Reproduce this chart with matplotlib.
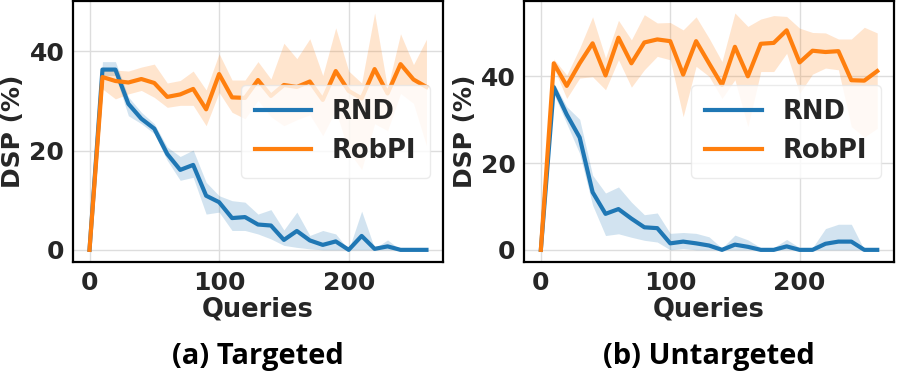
import matplotlib
matplotlib.use("Agg")
import matplotlib.pyplot as plt

queries = [0, 10, 20, 30, 40, 50, 60, 70, 80, 90, 100, 110, 120, 130,
           140, 150, 160, 170, 180, 190, 200, 210, 220, 230, 240, 250, 260]

# (a) Targeted
tgt_rnd = [0, 36.3, 36.3, 29.4, 26.4, 24.4, 19.3, 16.1, 17.1, 10.9, 9.6, 6.4, 6.6, 5.1,
           4.9, 2.0, 3.8, 1.9, 1.0, 1.7, 0, 2.8, 0.2, 0.7, 0, 0, 0]
tgt_rnd_lo = [0, 35.1, 35.1, 27.0, 25.4, 23.4, 18.0, 14.0, 14.6, 7.2, 7.6, 3.9, 3.9, 3.2,
              2.2, 0.9, 0.5, 0.2, 0, 0, 0, 0, 0, 0, 0, 0, 0]
tgt_rnd_hi = [0, 37.9, 37.9, 30.8, 27.7, 25.4, 20.7, 18.8, 20.1, 13.6, 10.9, 9.9, 9.6, 7.2,
              8.1, 4.0, 7.6, 2.9, 3.9, 3.2, 0, 7.8, 0.3, 2.0, 0, 0, 0]
tgt_rob = [0, 34.8, 34.0, 33.7, 34.4, 33.6, 30.8, 31.3, 32.4, 28.3, 35.4, 30.7, 30.6, 34.2,
           31.0, 33.2, 32.8, 33.9, 30.2, 36.0, 32.0, 30.5, 36.4, 31.5, 37.4, 34.3, 32.8]
tgt_rob_lo = [0, 32.4, 30.4, 31.4, 32.1, 30.7, 28.7, 29.1, 29.1, 25.0, 31.7, 27.7, 26.4, 30.1,
              26.8, 25.0, 26.2, 27.2, 23.0, 28.1, 19.8, 16.2, 25.4, 24.0, 31.5, 29.5, 21.0]
tgt_rob_hi = [0, 36.8, 36.2, 36.0, 36.8, 37.4, 33.6, 34.1, 36.0, 32.2, 39.5, 34.2, 34.2, 37.9,
              34.4, 41.6, 38.5, 42.5, 35.1, 44.7, 36.0, 33.6, 47.7, 32.5, 43.5, 37.3, 42.4]

# (b) Untargeted
utg_rnd = [0, 37.5, 31.2, 25.9, 13.3, 8.3, 9.4, 7.2, 5.2, 5.0, 1.5, 1.9, 1.5, 1.0,
           0, 1.2, 0.7, 0, 0, 0.8, 0, 0, 1.4, 1.9, 1.9, 0, 0]
utg_rnd_lo = [0, 36.0, 29.1, 22.2, 10.3, 3.3, 3.7, 2.9, 2.2, 1.8, 0, 0.3, 0, 0,
              0, 0, 0, 0, 0, 0, 0, 0, 0, 0, 0, 0, 0]
utg_rnd_hi = [0, 38.5, 33.0, 30.1, 17.2, 13.1, 14.5, 11.0, 8.1, 8.5, 3.8, 4.0, 3.8, 3.0,
              0.4, 3.4, 2.3, 0.5, 0.5, 2.4, 0.5, 0.5, 4.9, 5.9, 5.9, 0, 0]
utg_rob = [0, 43.0, 37.8, 43.0, 47.6, 40.2, 48.9, 43.0, 47.8, 48.5, 48.1, 40.4, 48.1, 43.0,
           38.0, 46.8, 40.0, 47.5, 47.7, 50.6, 43.2, 45.9, 45.6, 45.8, 39.1, 39.0, 41.2]
utg_rob_lo = [0, 41.9, 34.9, 39.6, 39.9, 36.9, 43.8, 37.5, 41.5, 44.6, 43.8, 30.7, 42.3, 40.0,
              34.9, 39.2, 28.4, 41.1, 41.1, 45.3, 36.1, 40.5, 41.9, 41.5, 28.4, 26.0, 28.0]
utg_rob_hi = [0, 44.0, 40.3, 46.5, 53.7, 44.2, 52.9, 48.4, 54.2, 52.3, 52.4, 50.7, 53.7, 48.8,
              43.4, 54.6, 51.5, 53.2, 54.0, 53.8, 51.1, 50.1, 50.0, 48.6, 48.6, 51.3, 50.0]

captions = ["(a) Targeted", "(b) Untargeted"]
BLUE = "#1f77b4"
ORANGE = "#ff7f0e"
TXT = "#262626"


def draw_panel(ax, rnd, rnd_lo, rnd_hi, rob, rob_lo, rob_hi):
    ax.fill_between(queries, rnd_lo, rnd_hi, color=BLUE, alpha=0.2, lw=0)
    ax.fill_between(queries, rob_lo, rob_hi, color=ORANGE, alpha=0.2, lw=0)
    ax.plot(queries, rnd, color=BLUE, lw=3, label="RND")
    ax.plot(queries, rob, color=ORANGE, lw=3, label="RobPI")
    ax.set_xticks([0, 100, 200])
    ax.set_yticks([0, 20, 40])
    ax.grid(True, color="#dddddd", lw=1)
    ax.set_axisbelow(True)
    for s in ax.spines.values():
        s.set_color("black")
        s.set_linewidth(1.6)
    ax.tick_params(length=0, labelsize=18, labelcolor=TXT)
    ax.tick_params(axis="x", pad=7)
    ax.tick_params(axis="y", pad=6)
    for lab in ax.get_xticklabels() + ax.get_yticklabels():
        lab.set_fontweight("bold")
    ax.set_xlabel("Queries", fontsize=18.5, fontweight="bold", color=TXT, labelpad=1)
    ax.set_ylabel("DSP (%)", fontsize=18, fontweight="bold", color=TXT)
    ax.yaxis.set_label_coords(-0.128, 0.5)
    leg = ax.legend(loc="center right", prop={"size": 18.5, "weight": "bold"},
                    handlelength=2.2, borderpad=0.55, fancybox=True, framealpha=0.8)
    leg.get_frame().set_edgecolor("#e6e6e6")
    for t in leg.get_texts():
        t.set_color(TXT)


fig = plt.figure(figsize=(8.97, 3.73), dpi=100)
ax1 = fig.add_axes([0.081, 0.2984, 0.4132, 0.6986])
ax2 = fig.add_axes([0.5842, 0.2984, 0.4125, 0.6986])

draw_panel(ax1, tgt_rnd, tgt_rnd_lo, tgt_rnd_hi, tgt_rob, tgt_rob_lo, tgt_rob_hi)
draw_panel(ax2, utg_rnd, utg_rnd_lo, utg_rnd_hi, utg_rob, utg_rob_lo, utg_rob_hi)

fig.text(0.2876, 0.043, captions[0], ha="center", va="center", color="black",
         fontsize=21, fontweight="bold", family=["Open Sans", "DejaVu Sans"])
fig.text(0.790, 0.043, captions[1], ha="center", va="center", color="black",
         fontsize=21, fontweight="bold", family=["Open Sans", "DejaVu Sans"])

fig.savefig("out.png", dpi=100)
